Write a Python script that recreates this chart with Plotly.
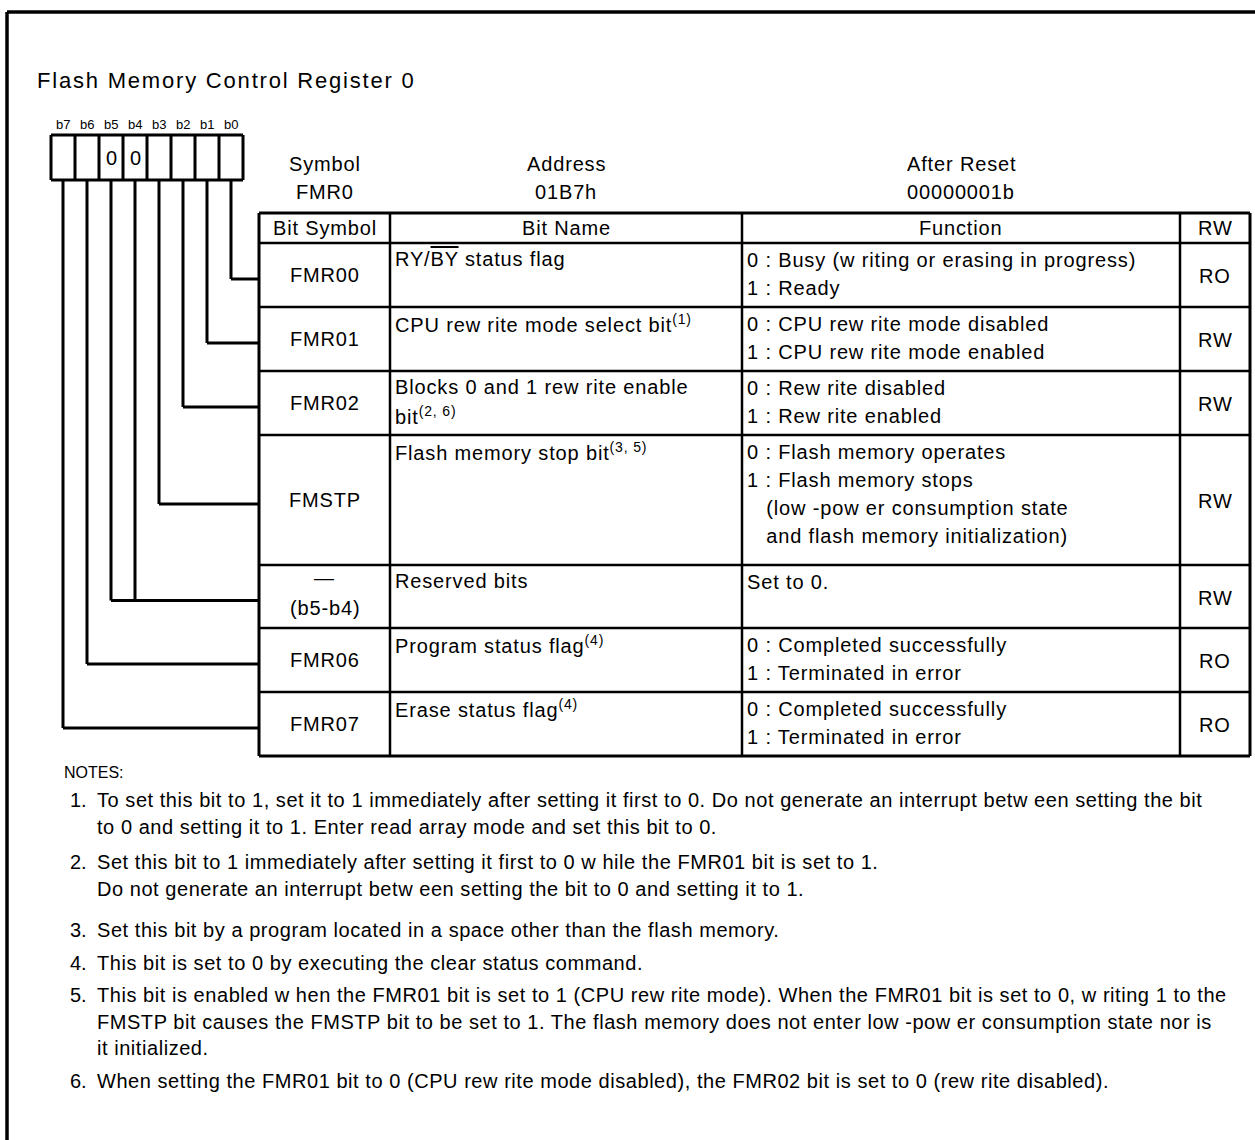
import plotly.graph_objects as go

# ---------------- data ----------------
title_text = "Flash Memory Control Register 0"
bit_labels = ["b7", "b6", "b5", "b4", "b3", "b2", "b1", "b0"]
bit_values = ["", "", "0", "0", "", "", "", ""]

reg_header_titles = ["Symbol", "Address", "After Reset"]
reg_header_values = ["FMR0", "01B7h", "00000001b"]

col_headers = ["Bit Symbol", "Bit Name", "Function", "RW"]

bit_symbols = [["FMR00"], ["FMR01"], ["FMR02"], ["FMSTP"], ["\u2014", "(b5-b4)"], ["FMR06"], ["FMR07"]]
bit_names = [
    ['RY/<span style="text-decoration:overline">BY</span> status flag'],
    ["CPU rew rite mode select bit<sup>(1)</sup>"],
    ["Blocks 0 and 1 rew rite enable", "bit<sup>(2, 6)</sup>"],
    ["Flash memory stop bit<sup>(3, 5)</sup>"],
    ["Reserved bits"],
    ["Program status flag<sup>(4)</sup>"],
    ["Erase status flag<sup>(4)</sup>"],
]
functions = [
    ["0 : Busy (w riting or erasing in progress)", "1 : Ready"],
    ["0 : CPU rew rite mode disabled", "1 : CPU rew rite mode enabled"],
    ["0 : Rew rite disabled", "1 : Rew rite enabled"],
    ["0 : Flash memory operates", "1 : Flash memory stops",
     "\u00a0\u00a0\u00a0(low -pow er consumption state",
     "\u00a0\u00a0\u00a0and flash memory initialization)"],
    ["Set to 0."],
    ["0 : Completed successfully", "1 : Terminated in error"],
    ["0 : Completed successfully", "1 : Terminated in error"],
]
rw_values = ["RO", "RW", "RW", "RW", "RW", "RO", "RO"]
# which bit boxes (index into bit_labels) feed each row
row_bits = [[7], [6], [5], [4], [2, 3], [1], [0]]

notes_title = "NOTES:"
notes = [
    ["To set this bit to 1, set it to 1 immediately after setting it first to 0. Do not generate an interrupt betw een setting the bit",
     "to 0 and setting it to 1. Enter read array mode and set this bit to 0."],
    ["Set this bit to 1 immediately after setting it first to 0 w hile the FMR01 bit is set to 1.",
     "Do not generate an interrupt betw een setting the bit to 0 and setting it to 1."],
    ["Set this bit by a program located in a space other than the flash memory."],
    ["This bit is set to 0 by executing the clear status command."],
    ["This bit is enabled w hen the FMR01 bit is set to 1 (CPU rew rite mode). When the FMR01 bit is set to 0, w riting 1 to the",
     "FMSTP bit causes the FMSTP bit to be set to 1. The flash memory does not enter low -pow er consumption state nor is",
     "it initialized."],
    ["When setting the FMR01 bit to 0 (CPU rew rite mode disabled), the FMR02 bit is set to 0 (rew rite disabled)."],
]

# ---------------- layout constants ----------------
W, H = 1255, 1140
FONT = "Liberation Sans, Arial, sans-serif"
FS = 20
LS = 0.85
NOTE_LS = 0.55
BLACK = "#000000"

box_left, box_top, box_bottom, cell_w = 51, 135, 180, 24
tbl_cols = [259, 390, 742, 1180, 1250]
hdr_top, hdr_bottom = 213, 243
row_heights = [64, 64, 64, 130, 63, 64, 64]
line_gap = 28

shapes = []
annotations = []


def line(x0, y0, x1, y1, w=2.5):
    shapes.append(dict(type="line", xref="x", yref="y", x0=x0, y0=y0, x1=x1, y1=y1,
                       line=dict(color=BLACK, width=w)))


def text(x, y, s, size=FS, spacing=LS, xanchor="left", yanchor="middle"):
    if spacing:
        s = f'<span style="letter-spacing:{spacing}px">{s}</span>'
    annotations.append(dict(x=x, y=y, xref="x", yref="y", text=s, showarrow=False,
                            xanchor=xanchor, yanchor=yanchor,
                            font=dict(family=FONT, size=size, color=BLACK)))


# outer frame (top and left)
line(7, 12, W + 5, 12, 3.5)
line(7, 12, 7, H + 5, 3.5)

# title
text(35, 80, title_text, size=22, spacing=1.8)

# bit boxes
for i, (lab, val) in enumerate(zip(bit_labels, bit_values)):
    cx = box_left + cell_w * (i + 0.5)
    text(cx, 124, lab, size=13, spacing=0, xanchor="center")
    if val:
        text(cx, 158, val, size=FS, spacing=0, xanchor="center")
line(box_left, box_top, box_left + 8 * cell_w, box_top, 3)
line(box_left, box_bottom, box_left + 8 * cell_w, box_bottom, 3)
for i in range(9):
    line(box_left + i * cell_w, box_top, box_left + i * cell_w, box_bottom, 3)

# register header
hdr_x = [(tbl_cols[0] + tbl_cols[1]) / 2, (tbl_cols[1] + tbl_cols[2]) / 2, (tbl_cols[2] + tbl_cols[3]) / 2]
for x, t, v in zip(hdr_x, reg_header_titles, reg_header_values):
    text(x, 164, t, xanchor="center")
    text(x, 192, v, xanchor="center")

# table header
for j, h in enumerate(col_headers):
    text((tbl_cols[j] + tbl_cols[j + 1]) / 2, (hdr_top + hdr_bottom) / 2, h, xanchor="center")

# row boundaries
row_tops = [hdr_bottom]
for h in row_heights:
    row_tops.append(row_tops[-1] + h)

# table grid
line(tbl_cols[0], hdr_top, tbl_cols[-1], hdr_top, 3)
for y in row_tops[:-1]:
    line(tbl_cols[0], y, tbl_cols[-1], y, 2.5)
line(tbl_cols[0], row_tops[-1], tbl_cols[-1], row_tops[-1], 3)
for k, x in enumerate(tbl_cols):
    line(x, hdr_top, x, row_tops[-1], 3 if k in (0, len(tbl_cols) - 1) else 2.5)

# rows
for r in range(len(row_heights)):
    top, bot = row_tops[r], row_tops[r + 1]
    cy = (top + bot) / 2
    sym = bit_symbols[r]
    sx = (tbl_cols[0] + tbl_cols[1]) / 2
    if len(sym) == 1:
        text(sx, cy, sym[0], xanchor="center")
    else:
        text(sx, top + 13, sym[0], xanchor="center")
        text(sx, top + 13 + line_gap + 2, sym[1], xanchor="center")
    for k, s in enumerate(bit_names[r]):
        text(tbl_cols[1] + 3, top + 16 + k * line_gap, s)
    for k, s in enumerate(functions[r]):
        text(tbl_cols[2] + 3, top + 17 + k * line_gap, s)
    text((tbl_cols[3] + tbl_cols[4]) / 2, cy + 1, rw_values[r], xanchor="center")
    # connectors from bit boxes
    cys = cy + 4
    xs = [box_left + cell_w * (b + 0.5) for b in row_bits[r]]
    for x in xs:
        line(x, box_bottom, x, cys, 3)
    line(min(xs), cys, tbl_cols[0], cys, 3)

# notes
text(62, 772, notes_title, size=16, spacing=0)
note_y = [800, 862, 930, 963, 995, 1081]
note_gap = 26.5
for n, (y0, lines) in enumerate(zip(note_y, notes)):
    text(89, y0, f"{n + 1}.", size=FS, spacing=0, xanchor="right")
    for k, s in enumerate(lines):
        text(95, y0 + k * note_gap, s, size=FS, spacing=NOTE_LS)

fig = go.Figure()
fig.update_layout(
    width=W, height=H, margin=dict(l=0, r=0, t=0, b=0),
    paper_bgcolor="white", plot_bgcolor="white",
    xaxis=dict(range=[0, W], visible=False, fixedrange=True),
    yaxis=dict(range=[H, 0], visible=False, fixedrange=True),
    shapes=shapes, annotations=annotations, showlegend=False,
)
fig.write_html("out.html", config={"displayModeBar": False},
               post_script="document.body.style.margin='0px';document.body.style.overflow='hidden';")
